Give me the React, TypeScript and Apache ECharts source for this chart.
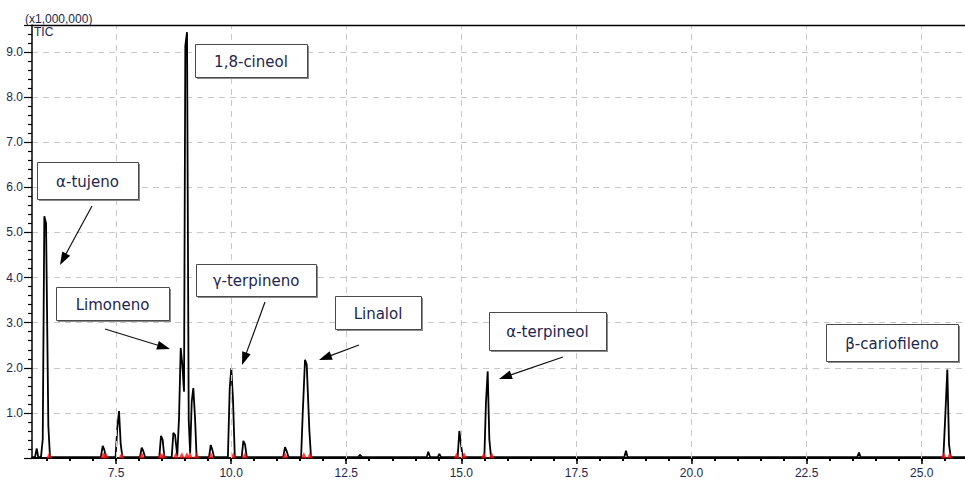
import React, { useEffect, useRef } from 'react';
import * as echarts from 'echarts';

// Axis ranges (retention time in minutes, TIC in x1,000,000)
const X_MIN = 5.675;
const X_MAX = 25.94;
const Y_MAX = 9.6;

const X_MAJOR = [7.5, 10, 12.5, 15, 17.5, 20, 22.5, 25];
const X_MINOR = [
  6, 6.5, 7, 7.5, 8, 8.5, 9, 9.5, 10, 10.5, 11, 11.5, 12, 12.5, 13, 13.5, 14, 14.5, 15, 15.5,
  16, 16.5, 17, 17.5, 18, 18.5, 19, 19.5, 20, 20.5, 21, 21.5, 22, 22.5, 23, 23.5, 24, 24.5, 25, 25.5,
];
const Y_MAJOR = [1, 2, 3, 4, 5, 6, 7, 8, 9];

// Chromatogram scans: retention time and TIC intensity
const RT = [
  5.675, 5.74, 5.778, 5.81, 5.87, 5.908, 5.943, 5.98, 6.03, 6.066,
  7.17, 7.211, 7.246, 7.28,
  7.49, 7.528, 7.565, 7.602, 7.64,
  8.02, 8.058, 8.093, 8.13,
  8.44, 8.477, 8.513, 8.55,
  8.71, 8.745, 8.782, 8.83, 8.868, 8.905, 8.94, 8.977, 9.005, 9.042, 9.079, 9.11, 9.144, 9.179, 9.216, 9.25,
  9.52, 9.557, 9.592, 9.63,
  9.93, 9.97, 10.004, 10.041, 10.08,
  10.23, 10.265, 10.302, 10.34,
  11.13, 11.171, 11.208, 11.245,
  11.52, 11.555, 11.605, 11.642, 11.699, 11.735,
  12.76, 12.8, 12.84,
  14.25, 14.283, 14.32,
  14.49, 14.522, 14.56,
  14.92, 14.957, 14.993, 15.03,
  15.5, 15.536, 15.573, 15.608, 15.645,
  18.54, 18.577, 18.61,
  23.6, 23.638, 23.67,
  25.47, 25.506, 25.556, 25.593, 25.63, 25.94,
];
const TIC = [
  0.02, 0.02, 0.21, 0.02, 0.02, 0.41, 5.36, 5.2, 0.71, 0.02,
  0.02, 0.27, 0.18, 0.02,
  0.02, 0.67, 1.04, 0.3, 0.02,
  0.02, 0.23, 0.15, 0.02,
  0.02, 0.49, 0.4, 0.02,
  0.02, 0.56, 0.51, 0.05, 0.88, 2.44, 2.07, 1.47, 9.14, 9.44, 0.84, 0.1, 1.25, 1.55, 0.89, 0.02,
  0.02, 0.29, 0.18, 0.02,
  0.02, 1.55, 1.99, 1.29, 0.02,
  0.02, 0.38, 0.3, 0.02,
  0.02, 0.24, 0.15, 0.02,
  0.02, 0.98, 2.18, 2.07, 0.62, 0.02,
  0.02, 0.07, 0.02,
  0.02, 0.14, 0.02,
  0.02, 0.09, 0.02,
  0.02, 0.6, 0.3, 0.02,
  0.02, 1.25, 1.92, 0.42, 0.02,
  0.02, 0.16, 0.02,
  0.02, 0.12, 0.02,
  0.02, 0.8, 1.96, 0.3, 0.02, 0.02,
];

// Peak integration markers (red) at baseline
const MARK_RT = [
  6.05, 7.22, 7.28, 7.62, 8.06, 8.47, 8.53, 8.8, 8.93, 9.04, 9.11, 9.25, 9.56,
  10.05, 10.3, 11.17, 11.58, 11.71, 14.9, 15.06, 15.49, 15.66, 25.48, 25.61,
];

const LABELS = ['α-tujeno', 'Limoneno', '1,8-cineol', 'γ-terpineno', 'Linalol', 'α-terpineol', 'β-cariofileno'];

// Callout layout (pixels): box [x, y, w, h], arrow [x1, y1, x2, y2] or null
const CALLOUT_LAYOUT: { box: number[]; arrow: number[] | null }[] = [
  { box: [37, 162, 101, 37], arrow: [92, 206, 60, 265] },
  { box: [56, 287, 113, 33], arrow: [105, 329, 170, 349] },
  { box: [195, 44, 112, 33], arrow: null },
  { box: [196, 264, 120, 32], arrow: [265, 302, 242, 365] },
  { box: [335, 296, 86, 33], arrow: [359, 345, 319, 360] },
  { box: [489, 312, 117, 38], arrow: [563, 357, 499, 379] },
  { box: [826, 324, 132, 37], arrow: null },
];

const TEXT_COLOR = '#1e2650';
const LABEL_FONT = '"Liberation Sans", Arial, sans-serif';
const CALLOUT_FONT = '15px "DejaVu Sans", Verdana, sans-serif';

function buildGraphics() {
  const els: any[] = [];
  els.push({
    type: 'line',
    shape: { x1: 32, y1: 25.5, x2: 965, y2: 25.5 },
    style: { stroke: '#000', lineWidth: 1.5 },
    z: 10,
  });
  els.push({
    type: 'text',
    style: { text: '(x1,000,000)', x: 25, y: 19, verticalAlign: 'middle', font: '12px ' + LABEL_FONT, fill: TEXT_COLOR },
    z: 10,
  });
  els.push({
    type: 'text',
    style: { text: 'TIC', x: 34, y: 32, verticalAlign: 'middle', font: '12px ' + LABEL_FONT, fill: TEXT_COLOR },
    z: 10,
  });
  LABELS.forEach((label, i) => {
    const { box, arrow } = CALLOUT_LAYOUT[i];
    const [bx, by, bw, bh] = box;
    els.push({
      type: 'rect',
      shape: { x: bx + 2, y: by + 2, width: bw, height: bh },
      style: { fill: '#8a8a8a' },
      z: 10,
    });
    els.push({
      type: 'rect',
      shape: { x: bx + 0.5, y: by + 0.5, width: bw, height: bh },
      style: { fill: '#ffffff', stroke: '#4a4a4a', lineWidth: 1 },
      z: 11,
    });
    els.push({
      type: 'text',
      style: {
        text: label,
        x: bx + bw / 2,
        y: by + bh / 2 + 1,
        align: 'center',
        verticalAlign: 'middle',
        font: CALLOUT_FONT,
        fill: TEXT_COLOR,
      },
      z: 12,
    });
    if (arrow) {
      const [x1, y1, x2, y2] = arrow;
      const dx = x2 - x1;
      const dy = y2 - y1;
      const len = Math.sqrt(dx * dx + dy * dy);
      const ux = dx / len;
      const uy = dy / len;
      const L = 13;
      const W = 4.5;
      const bxp = x2 - ux * L;
      const byp = y2 - uy * L;
      els.push({
        type: 'line',
        shape: { x1, y1, x2: bxp + ux * 2, y2: byp + uy * 2 },
        style: { stroke: '#111', lineWidth: 1.2 },
        z: 10,
      });
      els.push({
        type: 'polygon',
        shape: {
          points: [
            [x2, y2],
            [bxp - uy * W, byp + ux * W],
            [bxp + uy * W, byp - ux * W],
          ],
        },
        style: { fill: '#000' },
        z: 10,
      });
    }
  });
  return els;
}

export default function App() {
  const ref = useRef<HTMLDivElement>(null);
  useEffect(() => {
    if (!ref.current) return;
    const chart = echarts.init(ref.current, null, { renderer: 'svg' });
    const gridDash = { color: '#c8c8c8', width: 1, type: [6, 5] as any };
    const lineData = RT.map((t, i) => [t, TIC[i]]);
    const markData = MARK_RT.map((t) => [t, 0.06]);
    chart.setOption({
      animation: false,
      backgroundColor: '#ffffff',
      grid: { left: 32, top: 25, right: 0, bottom: 22, containLabel: false },
      xAxis: [
        {
          type: 'value',
          min: X_MIN,
          max: X_MAX,
          position: 'bottom',
          axisLine: { show: true, lineStyle: { color: '#000', width: 2 } },
          axisTick: { show: true, customValues: X_MAJOR, length: 6, lineStyle: { color: '#000', width: 1.5 } },
          axisLabel: {
            show: true,
            customValues: X_MAJOR,
            formatter: (v: number) => v.toFixed(1),
            color: TEXT_COLOR,
            fontFamily: LABEL_FONT,
            fontSize: 12,
            margin: 9,
          },
          splitLine: { show: false },
        },
        {
          type: 'value',
          min: X_MIN,
          max: X_MAX,
          position: 'bottom',
          axisLine: { show: false },
          axisTick: { show: true, customValues: X_MINOR, length: 3, lineStyle: { color: '#000', width: 2 } },
          axisLabel: { show: false },
          splitLine: { show: false },
        },
      ],
      yAxis: [
        {
          type: 'value',
          min: 0,
          max: Y_MAX,
          interval: 1,
          position: 'left',
          axisLine: { show: true, lineStyle: { color: '#000', width: 1.5 } },
          axisTick: { show: true, length: 8, lineStyle: { color: '#000', width: 1.2 } },
          minorTick: { show: true, splitNumber: 5, length: 4, lineStyle: { color: '#000', width: 1.2 } },
          axisLabel: {
            show: true,
            formatter: (v: number) => (Y_MAJOR.indexOf(v) >= 0 ? v.toFixed(1) : ''),
            color: TEXT_COLOR,
            fontFamily: LABEL_FONT,
            fontSize: 12,
            margin: 9,
          },
          splitLine: { show: true, lineStyle: gridDash },
        },
      ],
      series: [
        {
          type: 'line',
          name: 'grid',
          data: [[X_MIN, 0]],
          symbol: 'none',
          silent: true,
          lineStyle: { opacity: 0 },
          z: 1,
          markLine: {
            silent: true,
            symbol: 'none',
            label: { show: false },
            lineStyle: gridDash,
            data: X_MAJOR.map((v) => ({ xAxis: v })),
          },
        },
        {
          type: 'line',
          name: 'TIC',
          data: lineData,
          symbol: 'none',
          lineStyle: { color: '#000', width: 1.8 },
          z: 3,
        },
        {
          type: 'scatter',
          name: 'marks',
          data: markData,
          symbol: 'triangle',
          symbolSize: [6, 6],
          itemStyle: { color: '#ff1010' },
          z: 4,
        },
      ],
      graphic: buildGraphics(),
    });
    return () => chart.dispose();
  }, []);
  return <div ref={ref} style={{ position: 'absolute', left: 0, top: 0, width: 965, height: 480 }} />;
}
